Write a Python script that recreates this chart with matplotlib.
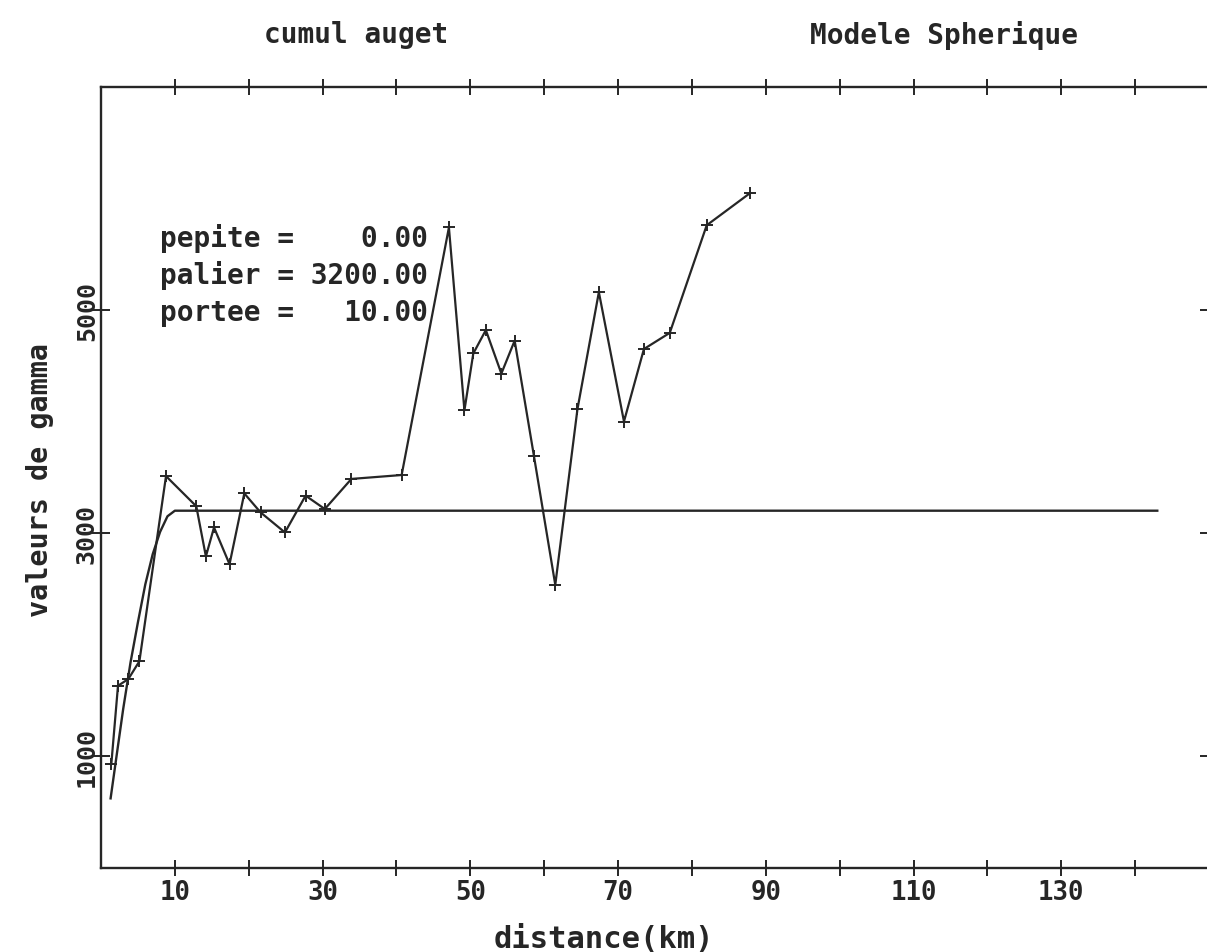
import matplotlib
matplotlib.use("Agg")
import matplotlib.pyplot as plt

# experimental variogram (distance in km, gamma values)
exp_dist = [1.4, 2.3, 3.7, 5.2, 8.8, 12.9, 14.2, 15.3, 17.4, 19.4, 21.6, 24.9,
            27.7, 30.3, 33.9, 40.7, 47.1, 49.2, 50.4, 52.1, 54.2, 56.0, 58.6,
            61.5, 64.5, 67.4, 70.8, 73.5, 77.0, 82.0, 87.9]
exp_gamma = [930, 1630, 1690, 1850, 3510, 3240, 2790, 3050, 2720, 3355, 3185, 3005,
             3335, 3215, 3485, 3520, 5740, 4100, 4610, 4820, 4430, 4725, 3695,
             2535, 4110, 5160, 4000, 4650, 4795, 5760, 6050]

# fitted spherical model
model_dist = [1.3, 2, 3, 4, 5, 6, 7, 8, 9, 10, 143]
model_gamma = [620, 950, 1420, 1840, 2200, 2540, 2810, 3010, 3150, 3200, 3200]

xticks = [10, 20, 30, 40, 50, 60, 70, 80, 90, 100, 110, 120, 130, 140]
xticklabels = ["10", "", "30", "", "50", "", "70", "", "90", "", "110", "", "130", ""]
yticks = [1000, 3000, 5000]
yticklabels = ["1000", "3000", "5000"]

params = [("pepite", 0.00), ("palier", 3200.00), ("portee", 10.00)]

FONT = "DejaVu Sans Mono"
WEIGHT = "bold"
INK = "#262626"
W, H = 1207, 953

fig = plt.figure(figsize=(W / 100, H / 100), dpi=100)
fig.patch.set_facecolor("white")
ax = fig.add_axes([101 / W, 1 - 868.5 / H, 1108 / W, (868.5 - 88) / H])
ax.set_facecolor("white")

ax.plot(model_dist, model_gamma, color=INK, lw=1.7, zorder=2)
ax.plot(exp_dist, exp_gamma, color=INK, lw=1.6, marker="+", ms=8, mew=1.4, zorder=3)

ax.set_xlim(0, 150)
ax.set_ylim(0, 7000)

for s in ax.spines.values():
    s.set_color(INK)
    s.set_linewidth(1.7)

ax.set_xticks(xticks)
ax.set_xticklabels(xticklabels, fontfamily=FONT, fontsize=18.5, color=INK,
                   fontweight=WEIGHT)
ax.set_yticks(yticks)
ax.set_yticklabels(yticklabels, fontfamily=FONT, fontsize=18, color=INK,
                   rotation=90, va="center", fontweight=WEIGHT)
ax.tick_params(axis="x", direction="inout", length=12, width=1.4, colors=INK,
               top=True, bottom=True, pad=2)
ax.tick_params(axis="y", direction="inout", length=13, width=1.4, colors=INK,
               left=True, right=True, pad=-5)

ax.set_xlabel("distance(km)", fontfamily=FONT, fontsize=22, color=INK,
              fontweight=WEIGHT)
ax.xaxis.set_label_coords((604 - 101) / 1108, -(940 - 868.5) / (868.5 - 88))
ax.xaxis.label.set_va("center")
ax.set_ylabel("valeurs de gamma", fontfamily=FONT, fontsize=20.5, color=INK,
              fontweight=WEIGHT)
ax.yaxis.set_label_coords(-(101 - 40) / 1108, (868.5 - 480) / (868.5 - 88))
ax.yaxis.label.set_va("center")

fig.text(356 / W, 1 - 35 / H, "cumul auget", fontfamily=FONT, fontsize=20,
         color=INK, ha="center", va="center", fontweight=WEIGHT)
fig.text(944 / W, 1 - 35 / H, "Modele Spherique", fontfamily=FONT, fontsize=20,
         color=INK, ha="center", va="center", fontweight=WEIGHT)

baselines = [247, 284, 321]
for (name, val), yb in zip(params, baselines):
    fig.text(160 / W, 1 - yb / H, f"{name} = {val:7.2f}", fontfamily=FONT,
             fontsize=20, color=INK, ha="left", va="baseline", fontweight=WEIGHT)

fig.savefig("out.png", dpi=100, facecolor="white")
